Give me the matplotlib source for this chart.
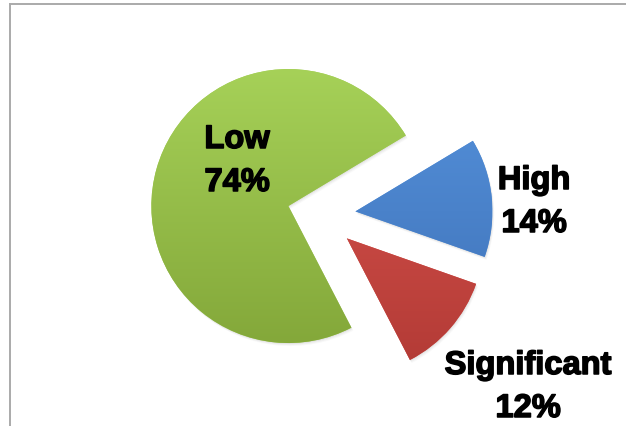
import numpy as np
import matplotlib
matplotlib.use("Agg")
import matplotlib.pyplot as plt
import matplotlib.patheffects as pe
from matplotlib.lines import Line2D
from matplotlib.patches import Wedge
from matplotlib.colors import to_rgb

# ---- data ----
categories = ["Low", "Significant", "High"]
values = [74, 12, 14]
explode = [0.24, 0.26, 0.26]
top_colors = ["#a6d158", "#d9544e", "#5592dc"]
bottom_colors = ["#84a83a", "#b23a35", "#3f72b8"]

W, H = 626, 427
R = 137.0           # pie radius in px
CX, CY = 320.0, 216.0  # pie center in px (from top-left)

fig = plt.figure(figsize=(W / 100, H / 100), dpi=100)
ax = fig.add_axes([0, 0, 1, 1])
ax.axis("off")

wedges, _ = ax.pie(values, explode=explode, startangle=31, counterclock=True,
                   colors=top_colors, radius=1.0,
                   wedgeprops=dict(linewidth=0))

# soft shadow
for w in wedges:
    for k, a in [(1.0, 0.10), (2.0, 0.07), (3.0, 0.05)]:
        sh = Wedge((w.center[0] + k * 0.6 / R, w.center[1] - k / R), w.r,
                   w.theta1, w.theta2, facecolor="#808080", edgecolor="none",
                   alpha=a, zorder=w.get_zorder() - 0.5)
        ax.add_patch(sh)

# vertical gradient fill clipped to each wedge
for w, tc, bc in zip(wedges, top_colors, bottom_colors):
    cx, cy = w.center
    r = w.r
    n = 200
    t = np.linspace(0, 1, n)[:, None]  # 0 bottom -> 1 top
    c0 = np.array(to_rgb(bc))
    c1 = np.array(to_rgb(tc))
    grad = c0[None, :] * (1 - t) + c1[None, :] * t
    img_arr = np.repeat(grad[:, None, :], 2, axis=1)
    im = ax.imshow(img_arr, extent=[cx - r, cx + r, cy - r, cy + r],
                   origin="lower", interpolation="bilinear", aspect="auto",
                   zorder=w.get_zorder() + 0.1)
    im.set_clip_path(w)

ax.set_aspect("auto")
ax.set_xlim(-CX / R, (W - CX) / R)
ax.set_ylim(-(H - CY) / R, CY / R)


def px2d(px, py):
    return (px - CX) / R, (CY - py) / R


label_pos = {"Low": (237, 162, 1.5), "High": (534, 203, 1.5),
             "Significant": (528, 388, 1.5)}
for cat, val in zip(categories, values):
    px, py, ls = label_pos[cat]
    x, y = px2d(px, py)
    ax.text(x, y, f"{cat}\n{val}%", ha="center", va="center",
            multialignment="center", linespacing=ls,
            fontsize=23.5, fontweight="bold", family="Liberation Sans",
            color="black", zorder=10,
            path_effects=[pe.withStroke(linewidth=1.1, foreground="black")])

# frame lines (left and top)
fig.add_artist(Line2D([9.5 / W, 9.5 / W], [0, 1 - 5 / H], color="#aaaaaa",
                      lw=1.4, transform=fig.transFigure))
fig.add_artist(Line2D([9.5 / W, 1], [1 - 5 / H, 1 - 5 / H], color="#aaaaaa",
                      lw=1.4, transform=fig.transFigure))

fig.savefig("out.png", dpi=100)
